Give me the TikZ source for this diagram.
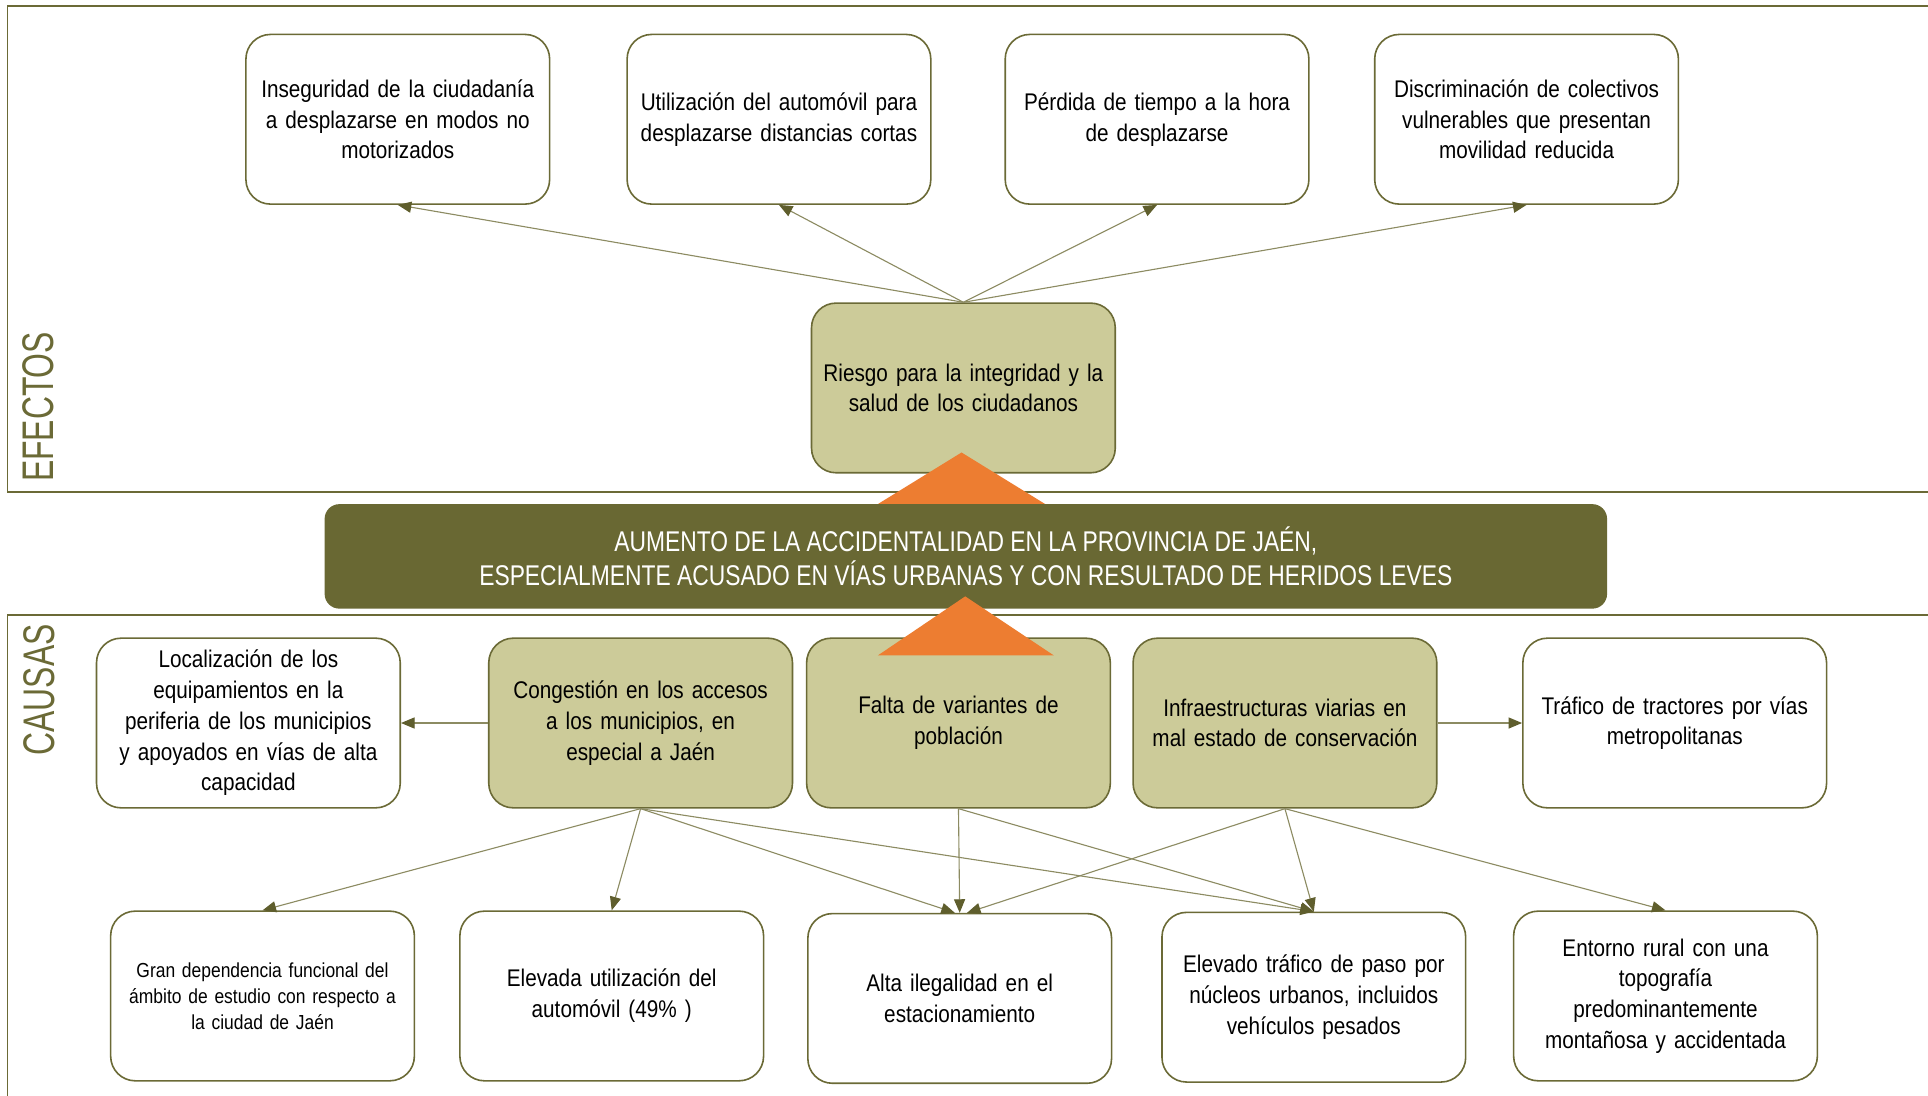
\documentclass[tikz,border=0pt]{standalone}
\usepackage{fontspec}
\setmainfont[FakeStretch=0.86]{Liberation Sans}
\newfontfamily\lblfont[FakeStretch=0.72]{Liberation Sans}
\newfontfamily\banfont[FakeStretch=0.8]{Liberation Sans}
\usetikzlibrary{arrows.meta}
\definecolor{oliveline}{HTML}{6B6A36}
\definecolor{arrowline}{HTML}{8C8B62}
\definecolor{arrowhd}{HTML}{5F5E2D}
\definecolor{khakifill}{HTML}{CCCB99}
\definecolor{bannerfill}{HTML}{696833}
\definecolor{orangetri}{HTML}{ED7D31}
\newcommand\txtA{\fontsize{19.6}{25}\selectfont}
\newcommand\txtS{\fontsize{16.5}{21}\selectfont}
\tikzset{
  boxbase/.style={draw=oliveline, line width=1.3pt, rounded corners=20pt,
    minimum width=247pt, minimum height=138pt, align=center, text width=235pt,
    inner sep=0pt, font=\txtA},
  wbox/.style={boxbase, fill=white},
  kbox/.style={boxbase, fill=khakifill},
  arr/.style={draw=arrowline, line width=0.9pt,
    -{Triangle[length=11pt,width=9pt,color=arrowhd]}},
  framel/.style={draw=oliveline, line width=1.3pt},
  sidelbl/.style={rotate=90, text=oliveline, font=\lblfont\fontsize{36}{36}\selectfont, inner sep=0pt},
  tri/.style={fill=orangetri, draw=none}
}
\begin{document}
\begin{tikzpicture}[x=1pt,y=-1pt]
\useasboundingbox (0,0) rectangle (1568,891);
\fill[white] (0,0) rectangle (1568,891);
% frames
\draw[framel] (1568,5) -- (6,5) -- (6,400) -- (1568,400);
\draw[framel] (1568,500) -- (6,500) -- (6,891);
\node[sidelbl] (lefect) at (31,331) {EFECTOS};
\node[sidelbl] (lcaus) at (32,561) {CAUSAS};
% effects
\node[wbox] (e1) at (323.5,97) {Inseguridad de la ciudadanía\\a desplazarse en modos no\\motorizados};
\node[wbox] (e2) at (633.5,97) {Utilización del automóvil para\\desplazarse distancias cortas};
\node[wbox] (e3) at (941,97) {Pérdida de tiempo a la hora\\de desplazarse};
\node[wbox] (e4) at (1241.5,97) {Discriminación de colectivos\\vulnerables que presentan\\movilidad reducida};
\node[kbox] (riesgo) at (783.5,315.5) {Riesgo para la integridad y la\\salud de los ciudadanos};
\draw[arr] (riesgo.north) -- (e1.south);
\draw[arr] (riesgo.north) -- (e2.south);
\draw[arr] (riesgo.north) -- (e3.south);
\draw[arr] (riesgo.north) -- (e4.south);
\fill[tri] (709,413) -- (782,368) -- (855,413) -- cycle;
% banner
\node[fill=bannerfill, rounded corners=12pt, minimum width=1043pt, minimum height=85pt,
  text=white, align=center, font=\banfont\fontsize{23.2}{28}\selectfont, inner sep=0pt]
  (banner) at (785.5,452.5) {AUMENTO DE LA ACCIDENTALIDAD EN LA PROVINCIA DE JAÉN,\\ESPECIALMENTE ACUSADO EN VÍAS URBANAS Y CON RESULTADO DE HERIDOS LEVES};
% causes
\node[wbox] (c1) at (202,588) {Localización de los\\equipamientos en la\\periferia de los municipios\\y apoyados en vías de alta\\capacidad};
\node[kbox] (c2) at (521,588) {Congestión en los accesos\\a los municipios, en\\especial a Jaén};
\node[kbox] (c3) at (779.5,588) {Falta de variantes de\\población};
\node[kbox] (c4) at (1045,588) {Infraestructuras viarias en\\mal estado de conservación};
\node[wbox] (c5) at (1362,588) {Tráfico de tractores por vías\\metropolitanas};
\fill[tri] (714,533) -- (785,485) -- (857,533) -- cycle;
\node[wbox, font=\txtS] (b1) at (213.5,810) {Gran dependencia funcional del\\ámbito de estudio con respecto a\\la ciudad de Jaén};
\node[wbox] (b2) at (497.5,810) {Elevada utilización del\\automóvil (49\% )};
\node[wbox] (b3) at (780.5,812) {Alta ilegalidad en el\\estacionamiento};
\node[wbox] (b4) at (1068.5,811) {Elevado tráfico de paso por\\núcleos urbanos, incluidos\\vehículos pesados};
\node[wbox] (b5) at (1354.5,810) {Entorno rural con una\\topografía\\predominantemente\\montañosa y accidentada};
% connectors
\draw[arr] (c2.west) -- (c1.east);
\draw[arr] (c4.east) -- (c5.west);
\draw[arr] (c2.south) -- (b1.north);
\draw[arr] (c2.south) -- (b2.north);
\draw[arr] (c2.south) -- ([xshift=-4pt]b3.north);
\draw[arr] (c2.south) -- (b4.north);
\draw[arr] (c3.south) -- (b3.north);
\draw[arr] (c3.south) -- (b4.north);
\draw[arr] (c4.south) -- ([xshift=6pt]b3.north);
\draw[arr] (c4.south) -- (b4.north);
\draw[arr] (c4.south) -- (b5.north);
\end{tikzpicture}
\end{document}
